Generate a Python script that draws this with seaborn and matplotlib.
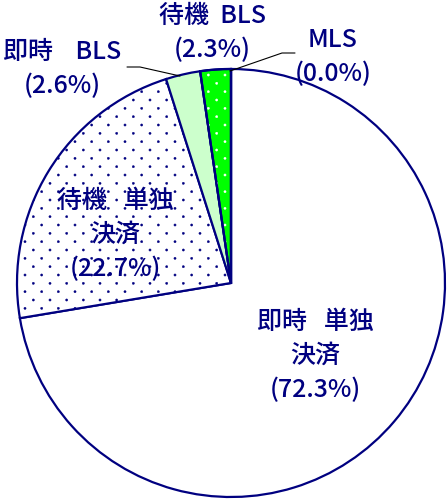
import matplotlib
matplotlib.use("Agg")
import matplotlib.pyplot as plt
import matplotlib.hatch as mhatch
from matplotlib.path import Path
from matplotlib.patches import Wedge
import numpy as np
import seaborn as sns

sns.set_theme(style="white")
plt.rcParams['font.family'] = ['Noto Sans CJK JP', 'DejaVu Sans']
plt.rcParams['hatch.linewidth'] = 0.3

categories = ["即時   単独\n決済", "待機   単独\n決済", "即時    BLS", "待機  BLS", "MLS"]
values = [72.3, 22.7, 2.6, 2.3, 0.0]
pct_labels = ["(72.3%)", "(22.7%)", "(2.6%)", "(2.3%)", "(0.0%)"]
face_colors = ["#FFFFFF", "#FFFFFF", "#CCFFCC", "#00FF00", "#00FF00"]


# sparse staggered dot texture (replaces the 'o' hatch)
class StaggerDots(mhatch.HatchPatternBase):
    def __init__(self, hatch, density):
        n = hatch.count('o')
        circ = Path.unit_circle()
        self.cv, self.cc = circ.vertices, circ.codes
        if n:
            cols, rows = 6, 12
            pts = []
            for r in range(rows + 1):
                y = r / rows
                if r % 2 == 0:
                    xs = np.linspace(0, 1, cols + 1)
                else:
                    xs = np.arange(cols) / cols + 0.5 / cols
                pts.extend((x, y) for x in xs)
            self.pts = np.array(pts)
            self.num_vertices = len(self.pts) * len(self.cv)
        else:
            self.pts = np.empty((0, 2))
            self.num_vertices = 0

    def set_vertices_and_codes(self, vertices, codes):
        r = 0.011
        n = len(self.cv)
        for i, (x, y) in enumerate(self.pts):
            vertices[i * n:(i + 1) * n] = self.cv * r + (x, y)
            codes[i * n:(i + 1) * n] = self.cc


mhatch._hatch_types[:] = [t for t in mhatch._hatch_types
                          if t is not mhatch.SmallCircles] + [StaggerDots]

navy = "#000080"
W, H = 448, 499
fig = plt.figure(figsize=(W / 100, H / 100), dpi=100)
ax = fig.add_axes([0, 0, 1, 1])

cx, cy, R = 231, 283, 214

wedges, _ = ax.pie(values, startangle=90, counterclock=False,
                   colors=face_colors, radius=1.0,
                   wedgeprops=dict(edgecolor=navy, linewidth=1.6))
ax.set_aspect("auto")
ax.set_xlim(-cx / R, (W - cx) / R)
ax.set_ylim(-(H - cy) / R, cy / R)
ax.axis("off")

wedges[1].set_hatch("o")
w3 = wedges[3]
ax.add_patch(Wedge(w3.center, w3.r, w3.theta1, w3.theta2, facecolor="none",
                   edgecolor="white", linewidth=0, hatch="o"))
ax.add_patch(Wedge(w3.center, w3.r, w3.theta1, w3.theta2, facecolor="none",
                   edgecolor=navy, linewidth=1.6))


def px(x, y):
    return ((x - cx) / R, (cy - y) / R)


fs = 18
label_pos = [(315, 356), (115, 235), (62, 69), (212, 33), (333, 57)]
for cat, pct, (lx, ly) in zip(categories, pct_labels, label_pos):
    x, y = px(lx, ly)
    ax.text(x, y, cat + "\n" + pct, ha="center", va="center", fontsize=fs,
            color=navy, linespacing=1.38, fontweight="medium")

# leader lines
xs, ys = zip(px(127, 67), px(140, 67), px(180, 76))
ax.plot(xs, ys, color="black", lw=0.8)
xs, ys = zip(px(295, 53), px(282, 53), px(230, 71))
ax.plot(xs, ys, color="black", lw=0.8)

fig.savefig("out.png", dpi=100, facecolor="white")
